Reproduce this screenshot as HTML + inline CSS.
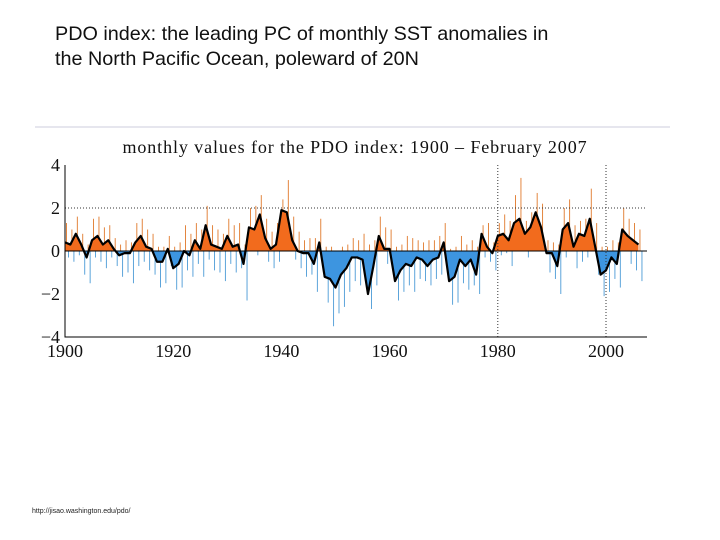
<!DOCTYPE html>
<html><head><meta charset="utf-8"><style>
body{margin:0;background:#fff;width:720px;height:540px;overflow:hidden;position:relative;font-family:"Liberation Sans",sans-serif}
.t{position:absolute;left:55px;font-size:19.8px;color:#111;line-height:25px}
</style></head><body>
<div class="t" style="top:22px">PDO index: the leading PC of monthly SST anomalies in<br>the North Pacific Ocean, poleward of 20N</div>
<div style="position:absolute;left:32px;top:508px;font-size:7px;color:#222">http://jisao.washington.edu/pdo/</div>
<svg id="c" width="720" height="540" style="position:absolute;left:0;top:0"></svg>
<script>
const years=[];for(let y=1900;y<=2006;y++)years.push(y);
const smooth=[0.4,0.3,0.8,0.3,-0.3,0.5,0.7,0.3,0.5,0.1,-0.2,-0.1,-0.1,0.4,0.7,0.2,0.1,-0.5,-0.5,0.1,-0.8,-0.6,0.0,-0.2,0.5,0.1,1.2,0.3,0.2,0.1,0.7,0.2,0.3,-0.6,1.1,1.0,1.7,0.6,0.1,0.3,1.9,1.8,0.5,0.0,-0.1,-0.1,-0.6,0.4,-1.2,-1.3,-1.7,-1.1,-0.8,-0.3,-0.3,-0.4,-2.0,-0.7,0.7,0.1,0.1,-1.4,-0.9,-0.6,-0.7,-0.3,-0.4,-0.7,-0.4,-0.3,0.4,-1.4,-1.2,-0.4,-0.7,-0.4,-1.1,0.8,0.2,-0.1,0.7,0.8,0.5,1.3,1.5,0.8,1.1,1.8,1.1,-0.1,-0.1,-0.7,1.0,1.3,0.2,0.8,0.7,1.5,0.2,-1.1,-0.9,-0.3,-0.6,1.0,0.7,0.5,0.3];
const hi=[1.3,1.0,1.6,0.8,0.3,1.5,1.6,1.1,1.2,0.6,0.3,0.5,0.4,1.3,1.5,1.0,0.8,0.2,0.2,0.7,0.2,0.4,1.2,0.8,1.3,1.0,2.1,1.2,1.0,0.8,1.5,1.2,1.3,0.3,2.0,2.1,2.6,1.5,0.9,1.3,2.4,3.3,1.6,0.9,0.5,0.6,0.6,1.5,0.2,0.2,-0.5,0.2,0.3,0.6,0.5,0.8,0.3,0.5,1.6,1.1,1.0,0.2,0.3,0.7,0.6,0.5,0.4,0.5,0.5,0.7,1.3,0.1,0.2,0.7,0.3,0.5,0.2,1.2,1.3,0.4,1.3,1.7,1.4,2.6,3.4,1.4,1.8,2.7,2.2,0.5,0.4,0.3,2.0,2.4,1.2,1.4,1.5,2.9,1.3,0.2,0.2,0.5,0.4,2.0,1.5,1.3,1.0];
const lo=[-0.3,-0.5,-0.2,-1.1,-1.5,-0.3,-0.5,-0.8,-0.3,-0.7,-1.2,-1.0,-1.5,-0.7,-0.5,-0.9,-1.1,-1.7,-1.5,-0.7,-1.8,-1.7,-0.9,-1.2,-0.6,-1.2,-0.4,-0.9,-1.0,-1.4,-0.6,-1.0,-0.8,-2.3,0.1,-0.2,0.4,-0.5,-0.8,-0.5,0.9,0.5,-0.4,-0.8,-1.2,-1.1,-1.9,-0.5,-2.4,-3.5,-2.9,-2.6,-1.9,-1.4,-1.6,-1.6,-2.7,-1.6,0.0,-0.6,-0.9,-2.3,-1.9,-1.6,-1.9,-1.3,-1.4,-1.6,-1.3,-1.1,-0.5,-2.5,-2.4,-1.5,-1.8,-1.6,-2.0,-0.3,-0.5,-0.9,-0.2,-0.1,-0.7,0.2,0.3,-0.3,0.1,0.6,0.1,-1.0,-1.3,-2.0,-0.3,0.2,-0.8,-0.5,-0.3,0.4,-1.1,-2.1,-1.9,-1.3,-1.7,0.0,-0.6,-0.9,-1.4];
const yTicks=[4,2,0,-2,-4],xTicks=[1900,1920,1940,1960,1980,2000];
const X=y=>65+(y-1900)*5.41,Y=v=>251-v*21.5;
const s=document.getElementById('c'),NS='http://www.w3.org/2000/svg';
function mk(t,a,p){const e=document.createElementNS(NS,t);for(const k in a)e.setAttribute(k,a[k]);(p||s).appendChild(e);return e;}
let e=mk('line',{x1:35,y1:127,x2:670,y2:127,stroke:'#e6e6ee','stroke-width':2});


e=mk('text',{x:355,y:153,'text-anchor':'middle','font-family':'Liberation Serif, serif','font-size':18,'letter-spacing':'0.9',fill:'#111'});e.textContent='monthly values for the PDO index: 1900 – February 2007';


const defs=mk('defs',{});
const c1=mk('clipPath',{id:'pos'},defs);mk('rect',{x:60,y:150,width:600,height:Y(0)-150},c1);
const c2=mk('clipPath',{id:'neg'},defs);mk('rect',{x:60,y:Y(0),width:600,height:120},c2);
years.forEach((y,i)=>{
 const l=mk('line',{x1:X(y)+1.5,x2:X(y)+1.5,y1:Y(Math.max(hi[i],0)),y2:Y(0),stroke:'#e0782a','stroke-width':0.9});
 
 
 const m=mk('line',{x1:X(y)+3.5,x2:X(y)+3.5,y1:Y(0),y2:Y(Math.min(lo[i],0)),stroke:'#4a9ad6','stroke-width':0.9});
 
 
});
let d='M'+X(years[0])+','+Y(0);years.forEach((y,i)=>d+='L'+X(y)+','+Y(smooth[i]));d+='L'+X(years[years.length-1])+','+Y(0)+'Z';
e=mk('path',{d:d,fill:'#f26b1d','clip-path':'url(#pos)'});


e=mk('path',{d:d,fill:'#3d95e0','clip-path':'url(#neg)'});


e=mk('line',{x1:65,y1:Y(2),x2:647,y2:Y(2),stroke:'#333','stroke-dasharray':'1,2'});


[1980,2000].forEach(y=>{const g=mk('line',{x1:X(y),x2:X(y),y1:165,y2:337,stroke:'#333','stroke-dasharray':'1,2'});

});
e=mk('line',{x1:65,y1:Y(0),x2:647,y2:Y(0),stroke:'#000','stroke-width':1});


e=mk('polyline',{points:years.map((y,i)=>X(y)+','+Y(smooth[i])).join(' '),fill:'none',stroke:'#000','stroke-width':2.2,'stroke-linejoin':'round'});


e=mk('path',{d:'M65,165V337H647',fill:'none',stroke:'#000'});


yTicks.forEach(v=>{const t=mk('text',{x:60,y:Y(v)+6,'text-anchor':'end','font-family':'Liberation Serif, serif','font-size':18,fill:'#111'});t.textContent=v<0?'\u2212'+(-v):v;

});
xTicks.forEach(v=>{const t=mk('text',{x:X(v),y:357,'text-anchor':'middle','font-family':'Liberation Serif, serif','font-size':18,fill:'#111'});t.textContent=v;

});
</script>
</body></html>
